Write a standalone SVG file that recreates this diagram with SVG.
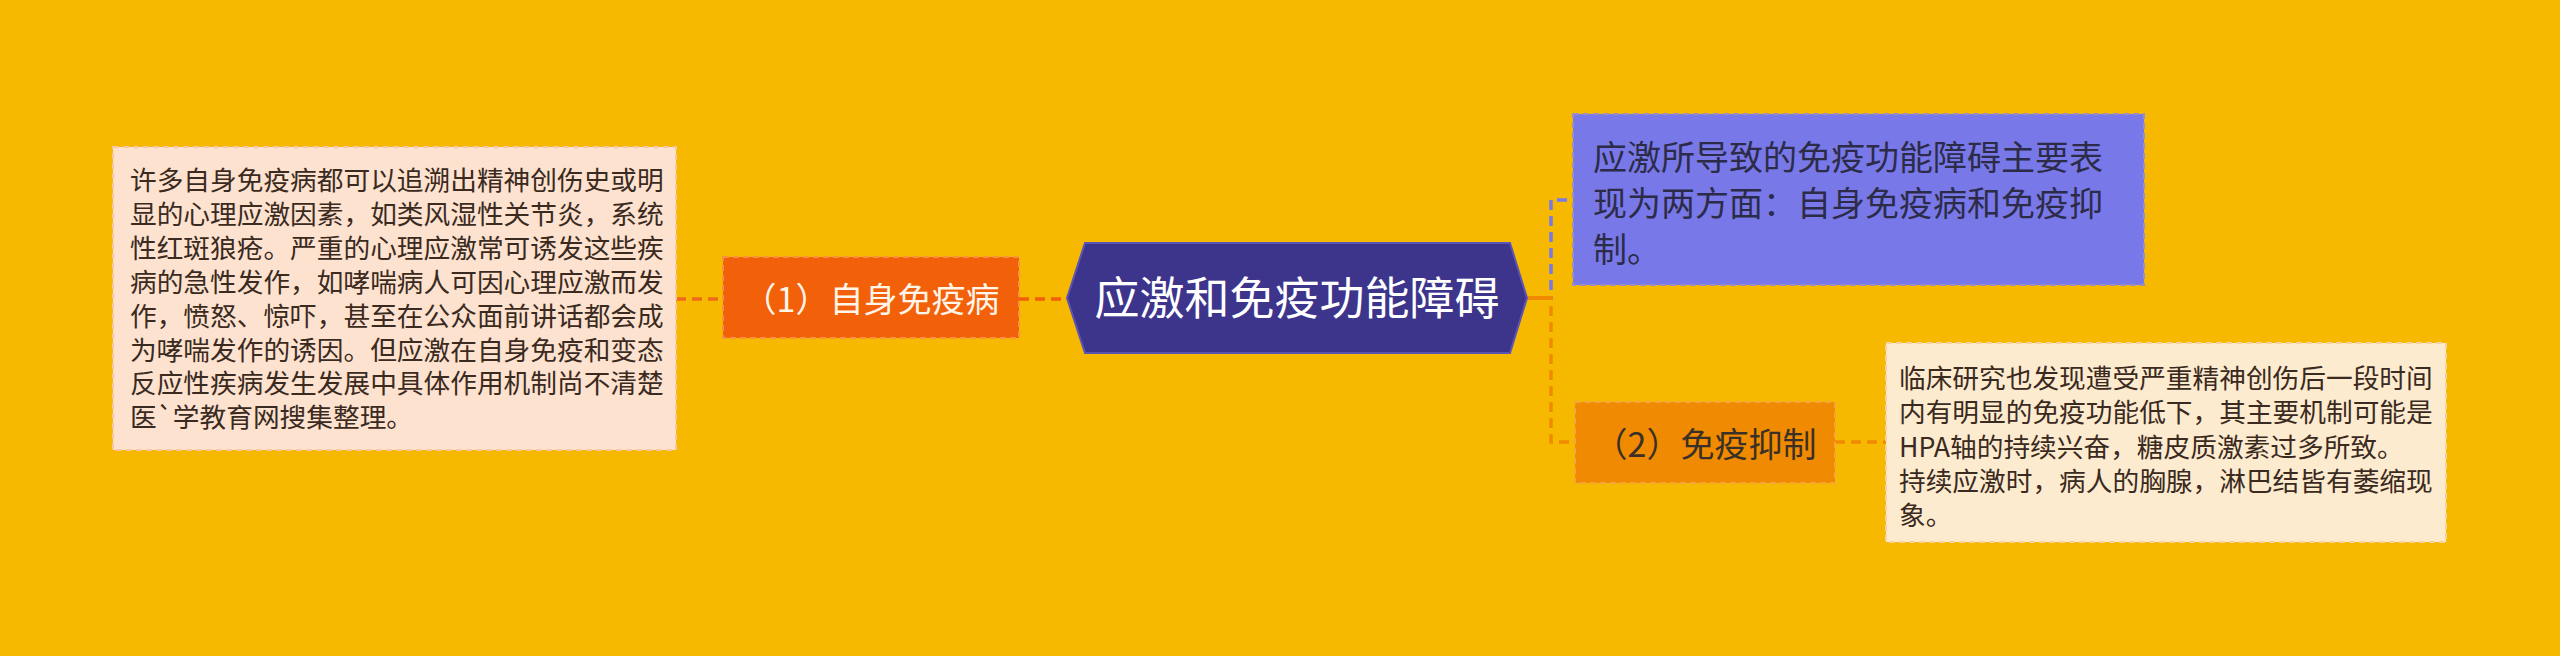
<svg xmlns="http://www.w3.org/2000/svg" width="2560" height="656" viewBox="0 0 2560 656">
<style>
.t{font-family:"Noto Sans CJK SC","Liberation Sans",sans-serif;}
.c{stroke-width:3.5;fill:none;stroke-dasharray:10 6;}
</style>
<rect x="0" y="0" width="2560" height="656" fill="#F6B900"/>
<g id="connectors">
<path class="c" d="M676,299 H723" stroke="#EE6A1A"/>
<path class="c" d="M1019,299 H1067" stroke="#F0600A" stroke-dasharray="22 8"/>
<path class="c" d="M1527,298 H1551 V200 H1573" stroke="#7878E8"/>
<path class="c" d="M1527,298 H1551 V442 H1575" stroke="#F08A00"/>
<path d="M1527,298 H1551" stroke="#F08A00" stroke-width="4" fill="none"/>
<path class="c" d="M1835,442 H1886" stroke="#F08A00"/>
</g>
<g id="root">
<polygon points="1067,298 1085,243 1510,243 1527,298 1510,353 1085,353" fill="#3D358B" stroke="#5B54B5" stroke-width="2"/>
<text class="t" x="1297" y="315" font-size="45" fill="#FFFFFF" text-anchor="middle">应激和免疫功能障碍</text>
</g>
<g id="n1">
<rect x="723" y="257" width="296" height="81" fill="#F2600A" stroke="#F7923E" stroke-width="2" stroke-dasharray="6 4"/>
<text class="t" x="871" y="312" font-size="34" fill="#FFF5E8" text-anchor="middle">（1）自身免疫病</text>
</g>
<g id="n1text">
<rect x="113" y="147" width="563" height="303" fill="#FDE2D0" stroke="#F5C8A4" stroke-width="2" stroke-dasharray="6 4"/>
<text class="t" font-size="26.7" fill="#3A2A20">
<tspan x="130" y="190">许多自身免疫病都可以追溯出精神创伤史或明</tspan>
<tspan x="130" y="223.9">显的心理应激因素，如类风湿性关节炎，系统</tspan>
<tspan x="130" y="257.8">性红斑狼疮。严重的心理应激常可诱发这些疾</tspan>
<tspan x="130" y="291.7">病的急性发作，如哮喘病人可因心理应激而发</tspan>
<tspan x="130" y="325.6">作，愤怒、惊吓，甚至在公众面前讲话都会成</tspan>
<tspan x="130" y="359.5">为哮喘发作的诱因。但应激在自身免疫和变态</tspan>
<tspan x="130" y="393.4">反应性疾病发生发展中具体作用机制尚不清楚</tspan>
<tspan x="130" y="427.3">医`学教育网搜集整理。</tspan>
</text>
</g>
<g id="n0">
<rect x="1573" y="114" width="571" height="171" fill="#7878E8" stroke="#9A8FC0" stroke-width="2" stroke-dasharray="6 4"/>
<text class="t" font-size="34" fill="#2C2C48">
<tspan x="1593" y="170">应激所导致的免疫功能障碍主要表</tspan>
<tspan x="1593" y="216">现为两方面：自身免疫病和免疫抑</tspan>
<tspan x="1593" y="262">制。</tspan>
</text>
</g>
<g id="n2">
<rect x="1575" y="402" width="260" height="81" fill="#F08A00" stroke="#F5A53A" stroke-width="2" stroke-dasharray="6 4"/>
<text class="t" x="1705" y="457" font-size="34" fill="#3A3028" text-anchor="middle">（2）免疫抑制</text>
</g>
<g id="n2text">
<rect x="1886" y="343" width="560" height="199" fill="#FDEBD0" stroke="#F5D2A0" stroke-width="2" stroke-dasharray="6 4"/>
<text class="t" font-size="26.7" fill="#3A2A20">
<tspan x="1899" y="388">临床研究也发现遭受严重精神创伤后一段时间</tspan>
<tspan x="1899" y="422.3">内有明显的免疫功能低下，其主要机制可能是</tspan>
<tspan x="1899" y="456.6">HPA轴的持续兴奋，糖皮质激素过多所致。</tspan>
<tspan x="1899" y="490.9">持续应激时，病人的胸腺，淋巴结皆有萎缩现</tspan>
<tspan x="1899" y="525.2">象。</tspan>
</text>
</g>
</svg>
